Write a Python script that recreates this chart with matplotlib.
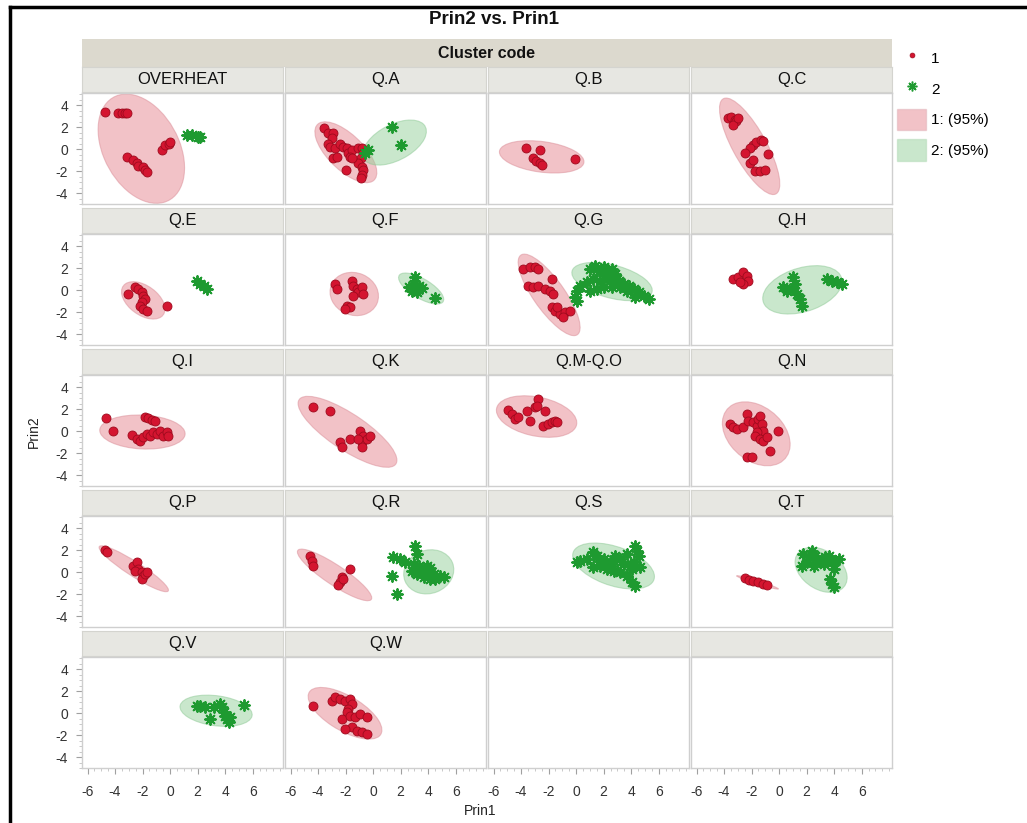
import numpy as np
import matplotlib
matplotlib.use("Agg")
import matplotlib.pyplot as plt
from matplotlib.patches import Ellipse, Patch
from matplotlib.lines import Line2D
from matplotlib.ticker import MultipleLocator

plt.rcParams['font.family'] = ['Liberation Sans', 'DejaVu Sans']
plt.rcParams['axes.unicode_minus'] = False

# ---------------- data ----------------
panels = ["OVERHEAT", "Q.A", "Q.B", "Q.C",
          "Q.E", "Q.F", "Q.G", "Q.H",
          "Q.I", "Q.K", "Q.M-Q.O", "Q.N",
          "Q.P", "Q.R", "Q.S", "Q.T",
          "Q.V", "Q.W", "", ""]

x_ticks = [-6, -4, -2, 0, 2, 4, 6]
y_ticks = [-4, -2, 0, 2, 4]

red_x = {
    "OVERHEAT": [-4.7, -3.8, -3.5, -3.3, -3.1, -3.1, -2.7, -2.4, -2.3, -2.0, -1.8, -1.7, -0.6, -0.4, -0.1, 0.0],
    "Q.A": [-3.6, -3.3, -2.9, -3.0, -3.3, -3.1, -2.8, -2.4, -2.2, -1.9, -1.8, -1.5, -1.1, -0.8, -0.7, -0.9,
            -1.1, -0.8, -0.7, -0.8, -0.9, -2.0, -2.9, -2.6, -1.7, -1.5],
    "Q.B": [-3.63, -2.65, -3.14, -2.90, -2.65, -2.46, -0.09],
    "Q.C": [-3.72, -3.48, -3.23, -3.11, -3.36, -2.99, -1.90, -1.66, -1.29, -1.17, -2.14, -2.50, -0.80,
            -2.14, -1.90, -1.77, -1.41, -1.04],
    "Q.E": [-3.04, -2.55, -2.31, -2.07, -1.95, -1.82, -2.07, -2.19, -1.95, -1.70, -0.24],
    "Q.F": [-2.77, -2.65, -1.55, -1.44, -1.19, -1.07, -0.82, -0.71, -1.44, -1.92, -1.68, -2.04],
    "Q.G": [-3.85, -3.36, -2.99, -2.75, -3.48, -3.12, -2.75, -2.26, -1.77, -1.90, -1.66, -1.77, -1.53,
            -1.17, -0.80, -0.44, -0.93, -1.41],
    "Q.H": [-3.34, -2.97, -2.61, -2.36, -2.24, -2.61, -2.85],
    "Q.I": [-4.67, -4.14, -2.80, -2.43, -2.19, -1.95, -1.70, -1.46, -1.22, -0.97, -0.73, -0.49, -0.24,
            -0.12, -1.82, -1.58, -1.34, -1.09],
    "Q.K": [-4.36, -3.14, -2.41, -2.28, -1.68, -0.95, -0.71, -0.82, -0.82, -0.46, -0.22, -1.07],
    "Q.M-Q.O": [-4.94, -4.69, -4.45, -4.21, -3.60, -3.36, -2.99, -2.75, -2.87, -2.26, -2.38, -2.02, -1.77,
                -1.53, -1.41],
    "Q.N": [-3.58, -3.34, -3.09, -2.61, -2.36, -2.24, -1.88, -1.63, -1.51, -1.39, -1.26, -1.15, -1.63,
            -1.75, -1.39, -1.15, -0.90, -0.05, -0.66, -2.36, -1.99],
    "Q.P": [-4.74, -4.58, -2.68, -2.43, -2.31, -2.55, -2.07, -1.95, -2.07, -1.82, -1.70],
    "Q.R": [-4.60, -4.47, -4.36, -1.68, -2.28, -2.41, -2.53, -2.17],
    "Q.T": [-2.48, -2.17, -1.88, -1.51, -1.15, -0.85],
    "Q.W": [-4.36, -3.02, -2.77, -2.41, -2.04, -1.68, -1.55, -1.80, -1.92, -2.28, -1.68, -1.31, -0.95,
            -0.46, -1.55, -1.19, -0.82, -0.46, -2.04],
}
red_y = {
    "OVERHEAT": [3.4, 3.3, 3.3, 3.3, 3.3, -0.7, -1.0, -1.3, -1.5, -1.6, -1.9, -2.1, -0.1, 0.4, 0.5, 0.6],
    "Q.A": [1.9, 1.5, 1.5, 1.0, 0.5, 0.2, 0.1, 0.5, 0.2, 0.1, -0.4, -0.1, 0.1, 0.1, -0.4, -0.8,
            -1.3, -1.6, -1.9, -2.4, -2.6, -1.9, -0.8, -0.7, -0.7, -0.8],
    "Q.B": [0.09, -0.06, -0.82, -1.12, -1.27, -1.48, -0.91],
    "Q.C": [2.82, 2.88, 2.67, 2.52, 2.21, 2.82, 0.39, 0.64, 0.85, 0.70, 0.09, -0.36, -0.45,
            -1.27, -0.97, -2.03, -1.97, -1.88],
    "Q.E": [-0.36, 0.25, 0.09, -0.21, -0.52, -0.82, -1.12, -1.43, -1.73, -1.88, -1.43],
    "Q.F": [0.55, 0.09, 0.85, 0.39, 0.09, -0.21, 0.25, -0.36, -0.52, -1.43, -1.57, -1.73],
    "Q.G": [1.91, 2.06, 2.06, 1.91, 0.39, 0.25, 0.39, 0.09, 1.0, -0.06, -0.36, -1.57, -1.88,
            -2.18, -2.03, -1.88, -2.48, -1.57],
    "Q.H": [1.0, 1.15, 1.61, 1.30, 0.85, 0.55, 0.70],
    "Q.I": [1.18, 0.03, -0.34, -0.73, -0.88, -0.57, -0.27, -0.42, -0.12, -0.27, 0.03, -0.42, -0.12,
            -0.42, 1.25, 1.15, 1.03, 0.94],
    "Q.K": [2.15, 1.85, -1.03, -1.48, -0.73, 0.03, -0.42, -1.03, -1.48, -0.73, -0.42, -0.73],
    "Q.M-Q.O": [1.94, 1.55, 1.09, 1.24, 1.85, 0.94, 2.15, 2.91, 2.30, 1.85, 0.42, 0.64, 0.79,
                0.94, 0.79],
    "Q.N": [0.64, 0.34, 0.18, 0.34, 1.55, 0.94, 0.79, 0.48, 1.09, 1.39, 0.64, 0.03, -0.12,
            -0.43, -0.73, -0.88, -0.57, 0.03, -1.79, -2.39, -2.39],
    "Q.P": [2.03, 1.85, 0.58, 0.88, 0.27, 0.12, -0.03, -0.33, -0.64, -0.18, -0.03],
    "Q.R": [1.48, 1.03, 0.58, 0.27, -0.48, -0.94, -1.18, -0.64],
    "Q.T": [-0.58, -0.73, -0.79, -0.94, -1.09, -1.18],
    "Q.W": [0.61, 1.12, 1.43, 1.27, 1.12, 1.27, 0.82, 0.36, 0.06, -0.55, -0.24, -0.39, -0.09,
            -0.39, -1.30, -1.61, -1.76, -1.91, -1.45],
}

green_x = {
    "OVERHEAT": [1.2, 1.6, 2.0, 2.2],
    "Q.A": [1.4, 2.0, -0.4, -0.6],
    "Q.E": [1.95, 2.19, 2.43, 2.68],
    "Q.F": [3.07, 2.94, 3.31, 3.55, 2.82, 3.19, 4.53, 2.58],
    "Q.G": [1.02, 1.39, 1.63, 1.99, 2.36, 2.61, 2.85, 2.24, 1.75, 1.26, 0.78, 2.72, 3.09, 3.45, 3.82,
            4.19, 4.55, 4.92, 5.28, 4.31, 3.70, 3.21, 2.61, 1.99, 1.51, 1.02, 0.29, 0.05, -0.07, 0.05,
            2.97, 2.12],
    "Q.H": [1.04, 1.17, 0.93, 0.56, 1.29, 1.53, 1.66, 3.48, 3.85, 4.21, 4.58, 0.31],
    "Q.R": [3.07, 3.19, 1.48, 1.97, 2.34, 2.94, 3.31, 3.55, 3.80, 4.04, 4.40, 4.89, 5.14, 4.53, 4.16,
            3.67, 3.19, 2.82, 1.36, 1.73, 3.92, 4.16],
    "Q.S": [0.05, 0.29, 0.78, 1.26, 1.51, 1.75, 1.99, 2.24, 2.36, 2.61, 2.72, 2.85, 3.21, 3.45, 3.70,
            3.94, 4.07, 4.19, 4.31, 4.43, 4.55, 4.31, 4.07, 3.70, 3.21, 2.72, 2.24, 1.75, 1.26, 4.67],
    "Q.T": [1.77, 2.14, 2.39, 2.63, 2.87, 3.12, 3.36, 3.60, 3.85, 4.09, 4.33, 3.96, 3.72, 3.85, 3.96,
            1.66, 2.02, 2.50, 3.23],
    "Q.V": [1.95, 2.19, 2.55, 2.92, 3.65, 3.77, 3.89, 4.01, 4.14, 4.26, 4.38, 5.35, 3.16],
}
green_y = {
    "OVERHEAT": [1.3, 1.3, 1.1, 1.1],
    "Q.A": [2.0, 0.4, -0.1, -0.4],
    "Q.E": [0.85, 0.55, 0.33, 0.09],
    "Q.F": [1.15, 0.55, 0.33, 0.15, -0.06, -0.21, -0.76, 0.25],
    "Q.G": [1.91, 2.21, 1.75, 2.06, 1.61, 1.91, 1.45, 1.0, 0.85, 1.0, 0.70, 0.70, 0.85, 0.55, 0.39,
            0.09, -0.21, -0.52, -0.82, -0.66, -0.06, 0.25, 0.25, 0.25, 0.09, -0.06, 0.39, -0.06, -0.66,
            -0.97, 1.0, 1.36],
    "Q.H": [1.15, 0.55, 0.09, -0.06, -0.36, -0.82, -1.43, 1.0, 0.85, 0.70, 0.55, 0.25],
    "Q.R": [2.39, 1.64, 1.34, 1.18, 0.88, 0.73, 0.52, 0.27, 0.12, -0.03, -0.18, -0.34, -0.48, -0.64,
            -0.64, -0.48, -0.18, 0.12, -0.34, -2.0, 0.58, 0.34],
    "Q.S": [0.88, 1.03, 1.18, 1.79, 1.48, 1.03, 1.18, 0.73, 0.43, 0.58, 1.03, 1.48, 1.18, 0.73, 1.64,
            0.58, 0.27, 0.88, 2.39, 1.94, 1.48, -1.24, -0.94, -0.34, -0.03, 0.12, 0.27, 0.58, 0.43, 0.43],
    "Q.T": [1.64, 1.33, 1.94, 1.48, 1.03, 1.18, 1.33, 1.48, 0.88, 1.03, 1.18, 0.27, -0.64, -1.09, -1.39,
            0.57, 0.88, 0.57, 0.73],
    "Q.V": [0.61, 0.67, 0.52, -0.55, 0.82, 0.52, 0.06, -0.24, -0.55, -0.85, -0.39, 0.73, 0.52],
}

# 95% density ellipses: (centre x, centre y, half x-extent, half y-extent, correlation)
red_ellipse = {
    "OVERHEAT": (-2.09, 0.03, 3.14, 4.97, -0.35),
    "Q.A": (-1.98, -0.29, 2.25, 2.77, -0.67),
    "Q.B": (-2.50, -0.71, 3.07, 1.47, -0.30),
    "Q.C": (-2.14, 0.25, 2.19, 4.39, -0.78),
    "Q.E": (-1.95, -0.94, 1.58, 1.70, -0.46),
    "Q.F": (-1.37, -0.36, 1.76, 1.97, -0.10),
    "Q.G": (-1.96, -0.44, 2.25, 3.71, -0.80),
    "Q.I": (-2.01, -0.09, 3.10, 1.55, -0.10),
    "Q.K": (-1.86, -0.07, 3.59, 3.23, -0.80),
    "Q.M-Q.O": (-2.87, 1.32, 2.92, 1.89, -0.30),
    "Q.N": (-1.66, -0.25, 2.46, 2.91, -0.33),
    "Q.P": (-2.64, 0.30, 2.52, 2.09, -0.93),
    "Q.R": (-2.80, -0.26, 2.70, 2.35, -0.89),
    "Q.T": (-1.57, -0.94, 1.52, 0.61, -0.97),
    "Q.W": (-2.04, -0.02, 2.68, 2.35, -0.65),
}
green_ellipse = {
    "Q.A": (1.56, 0.59, 2.31, 2.05, 0.50),
    "Q.F": (3.49, 0.14, 1.64, 1.41, -0.70),
    "Q.G": (2.61, 0.77, 2.92, 1.74, -0.46),
    "Q.H": (1.69, 0.02, 2.88, 2.20, 0.35),
    "Q.R": (4.04, 0.02, 1.82, 2.01, 0.10),
    "Q.S": (2.72, 0.55, 2.97, 2.09, -0.46),
    "Q.T": (3.05, 0.20, 1.89, 2.05, -0.35),
    "Q.V": (3.34, 0.21, 2.62, 1.42, -0.25),
}

# ---------------- styling ----------------
RED = '#d41530'
RED_EDGE = '#9e0b1e'
GREEN = '#1e9a30'
RED_FILL = '#e78791'
GREEN_FILL = '#95d19b'
STRIP = '#e7e7e2'
HEADER = '#dcd9ce'
BORDER = '#cfcfcf'
TICKC = '#333333'

W, H = 1027, 823
fig = plt.figure(figsize=(W / 100, H / 100), dpi=100)
fig.patch.set_facecolor('white')


def rect(l, t, w, h):
    return [l / W, 1 - (t + h) / H, w / W, h / H]


def density_ellipse(params, **kw):
    cx, cy, sx, sy, rho = params
    cov = np.array([[sx * sx, rho * sx * sy], [rho * sx * sy, sy * sy]])
    vals, vecs = np.linalg.eigh(cov)
    order = vals.argsort()[::-1]
    vals, vecs = vals[order], vecs[:, order]
    ang = np.degrees(np.arctan2(vecs[1, 0], vecs[0, 0]))
    return Ellipse((cx, cy), 2 * np.sqrt(vals[0]), 2 * np.sqrt(vals[1]), angle=ang, **kw)


NCOL, NROW = 4, 5
PL0, PT0, PW, PH, DX, DY = 82, 93, 201, 111, 203, 141

# header band
hax = fig.add_axes(rect(PL0, 39, DX * 3 + PW, 28))
hax.set_facecolor(HEADER)
hax.set_xticks([]); hax.set_yticks([])
for s in hax.spines.values():
    s.set_visible(False)
hax.text(0.5, 0.5, "Cluster code", transform=hax.transAxes, ha='center', va='center',
         fontsize=11.5, fontweight='bold', color='#111111')

for i, name in enumerate(panels):
    r, c = divmod(i, NCOL)
    left = PL0 + DX * c
    top = PT0 + DY * r
    # strip
    sax = fig.add_axes(rect(left, top - 26, PW, 25))
    sax.set_facecolor(STRIP)
    sax.set_xticks([]); sax.set_yticks([])
    for s in sax.spines.values():
        s.set_color('#d4d4cf'); s.set_linewidth(0.8)
    if name:
        sax.text(0.5, 0.5, name, transform=sax.transAxes, ha='center', va='center',
                 fontsize=12, color='#111111')

    ax = fig.add_axes(rect(left, top, PW, PH))
    ax.set_xlim(-6.4, 8.2)
    ax.set_ylim(-5.0, 5.1)
    for s in ax.spines.values():
        s.set_color(BORDER); s.set_linewidth(1.0)

    if name in red_ellipse:
        ax.add_patch(density_ellipse(red_ellipse[name], facecolor=RED_FILL, alpha=0.5,
                                     edgecolor='#d98c96', linewidth=0.8, zorder=1))
    if name in green_ellipse:
        ax.add_patch(density_ellipse(green_ellipse[name], facecolor=GREEN_FILL, alpha=0.5,
                                     edgecolor='#8cc894', linewidth=0.8, zorder=1.1))
    if name in red_x:
        ax.scatter(red_x[name], red_y[name], s=42, facecolor=RED, edgecolor=RED_EDGE,
                   linewidths=0.6, zorder=3)
    if name in green_x:
        ax.scatter(green_x[name], green_y[name], s=60, marker=(8, 2, 0), color=GREEN,
                   linewidths=1.4, zorder=4)

    ax.set_xticks(x_ticks)
    ax.set_yticks(y_ticks)
    ax.xaxis.set_minor_locator(MultipleLocator(0.5))
    ax.yaxis.set_minor_locator(MultipleLocator(0.5))
    ax.tick_params(which='major', length=4, color='#a0a0a0', labelcolor=TICKC, labelsize=10)
    ax.tick_params(which='minor', length=2, color='#c0c0c0')
    ax.tick_params(axis='x', pad=8)
    ax.tick_params(axis='y', pad=6)
    if c != 0:
        ax.tick_params(axis='y', which='both', left=False, labelleft=False)
    if r != NROW - 1:
        ax.tick_params(axis='x', which='both', bottom=False, labelbottom=False)
    ax.set_xticklabels([str(t) for t in x_ticks])
    ax.set_yticklabels([str(t) for t in y_ticks])

# titles and axis labels
fig.text(494 / W, 1 - 20 / H, "Prin2 vs. Prin1", ha='center', va='center',
         fontsize=13.5, fontweight='bold', color='#111111')
fig.text(34 / W, 1 - 432 / H, "Prin2", rotation=90, ha='center', va='center',
         fontsize=10, color='#222222')
fig.text(480 / W, 1 - 811 / H, "Prin1", ha='center', va='center',
         fontsize=10, color='#222222')

# legend
handles = [
    Line2D([], [], linestyle='none', marker='o', markersize=3.5, markerfacecolor=RED,
           markeredgecolor=RED_EDGE, markeredgewidth=0.5),
    Line2D([], [], linestyle='none', marker=(8, 2, 0), markersize=7, color=GREEN,
           markeredgewidth=1.1),
    Patch(facecolor=RED_FILL, alpha=0.5, edgecolor='#e0b0b6'),
    Patch(facecolor=GREEN_FILL, alpha=0.5, edgecolor='#b0d8b4'),
]
fig.legend(handles, ["1", "2", "1: (95%)", "2: (95%)"], loc='upper left',
           bbox_to_anchor=(897 / W, 1 - 47 / H), frameon=False, fontsize=11,
           handlelength=1.9, handleheight=1.8, handletextpad=0.35, labelspacing=0.6,
           borderpad=0, borderaxespad=0)

# black frame (left and top)
fig.add_artist(Line2D([10 / W, 10 / W], [0, 1 - 7 / H], color='black', lw=2.5,
                      transform=fig.transFigure))
fig.add_artist(Line2D([10 / W, 1], [1 - 7 / H, 1 - 7 / H], color='black', lw=2.5,
                      transform=fig.transFigure))

fig.savefig("out.png", dpi=100)
